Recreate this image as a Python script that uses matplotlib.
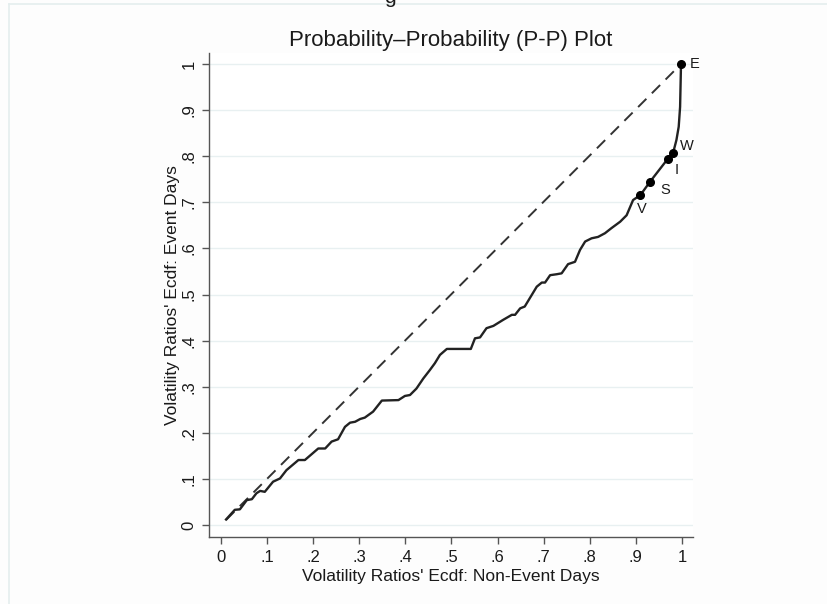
import matplotlib
matplotlib.use("Agg")
import matplotlib.pyplot as plt
from matplotlib.lines import Line2D

# P-P curve: ecdf of non-event days vs event days
ecdf_nonevent = [0.011, 0.030, 0.041, 0.056, 0.067, 0.077, 0.085, 0.095, 0.113, 0.128,
                 0.142, 0.168, 0.182, 0.211, 0.226, 0.240, 0.254, 0.269, 0.280, 0.291,
                 0.302, 0.312, 0.330, 0.349, 0.385, 0.399, 0.410, 0.424, 0.439, 0.453,
                 0.464, 0.475, 0.490, 0.542, 0.551, 0.562, 0.576, 0.591, 0.612, 0.631,
                 0.638, 0.649, 0.659, 0.685, 0.696, 0.703, 0.714, 0.728, 0.739, 0.753,
                 0.768, 0.779, 0.790, 0.804, 0.818, 0.833, 0.847, 0.866, 0.880, 0.894,
                 0.910, 0.931, 0.969, 0.981, 0.988, 0.993, 0.996, 0.998]
ecdf_event = [0.012, 0.033, 0.034, 0.054, 0.056, 0.069, 0.074, 0.072, 0.094, 0.101,
              0.119, 0.141, 0.141, 0.166, 0.166, 0.181, 0.186, 0.213, 0.222, 0.224,
              0.230, 0.233, 0.246, 0.270, 0.271, 0.280, 0.282, 0.296, 0.318, 0.336,
              0.351, 0.369, 0.382, 0.382, 0.405, 0.407, 0.427, 0.432, 0.445, 0.456,
              0.456, 0.470, 0.474, 0.517, 0.526, 0.526, 0.542, 0.544, 0.546, 0.566,
              0.571, 0.597, 0.615, 0.622, 0.625, 0.633, 0.644, 0.658, 0.672, 0.705,
              0.716, 0.745, 0.794, 0.808, 0.835, 0.864, 0.907, 1.0]

# labelled points
pt_labels = ["V", "S", "I", "W", "E"]
pt_x = [0.910, 0.931, 0.969, 0.981, 0.998]
pt_y = [0.716, 0.745, 0.794, 0.808, 1.0]
# label offsets in points (clock position like stata mlabpos)
pt_off = [(1, -10), (7, -6), (5, -8), (5, 5), (6, 0)]

# 45 degree reference line
ref_x = [0.011, 0.998]
ref_y = [0.011, 1.0]

ticks = [0, .1, .2, .3, .4, .5, .6, .7, .8, .9, 1]
tick_labels = ["0", ".1", ".2", ".3", ".4", ".5", ".6", ".7", ".8", ".9", "1"]

plt.rcParams['font.family'] = ['Liberation Sans', 'DejaVu Sans']
txt = '#1a1a1a'

fig = plt.figure(figsize=(8.27, 6.04), dpi=100)
fig.patch.set_facecolor('#fdfdfd')
# faint frame from the original page
fig.add_artist(Line2D([9/827, 1], [1-4/604, 1-4/604], color='#e4eeee', lw=1.2))
fig.add_artist(Line2D([9/827, 9/827], [0, 1-4/604], color='#e4eeee', lw=1.2))
fig.text(0.472, 1-3/604, "g", fontsize=15, color=txt, ha='center', va='baseline')

ax = fig.add_axes([209/827, 1-537/604, 484/827, 484/604])
ax.set_facecolor('white')
ax.set_xlim(-0.026, 1.024)
ax.set_ylim(-0.026, 1.024)

for t in ticks:
    ax.axhline(t, color='#e8f0f1', lw=1.0, zorder=0)

ax.plot(ref_x, ref_y, color='#333333', lw=1.4, dashes=(6, 4), zorder=2)
ax.plot(ecdf_nonevent, ecdf_event, color='#222222', lw=1.7, zorder=3)
ax.plot(pt_x, pt_y, 'o', color='black', ms=5.5, zorder=4)
for lab, x, y, off in zip(pt_labels, pt_x, pt_y, pt_off):
    ax.annotate(lab, (x, y), xytext=off, textcoords='offset points',
                ha='left' if off[0] > 3 else 'center', va='center',
                fontsize=10.5, color=txt)

ax.set_xticks(ticks)
ax.set_xticklabels(tick_labels)
ax.set_yticks(ticks)
ax.set_yticklabels(tick_labels, rotation=90, va='center')
ax.tick_params(direction='out', length=5, width=1, color='#555555',
               labelsize=12, labelcolor=txt, pad=4)
for s in ['top', 'right']:
    ax.spines[s].set_visible(False)
for s in ['left', 'bottom']:
    ax.spines[s].set_color('#555555')
    ax.spines[s].set_linewidth(1)

ax.set_xlabel("Volatility Ratios' Ecdf: Non-Event Days", fontsize=12.5, color=txt, labelpad=3)
ax.set_ylabel("Volatility Ratios' Ecdf: Event Days", fontsize=12.5, color=txt, labelpad=1)
ax.set_title("Probability\u2013Probability (P-P) Plot", fontsize=16, color=txt, pad=5)

fig.savefig("out.png", dpi=100, facecolor=fig.get_facecolor())
